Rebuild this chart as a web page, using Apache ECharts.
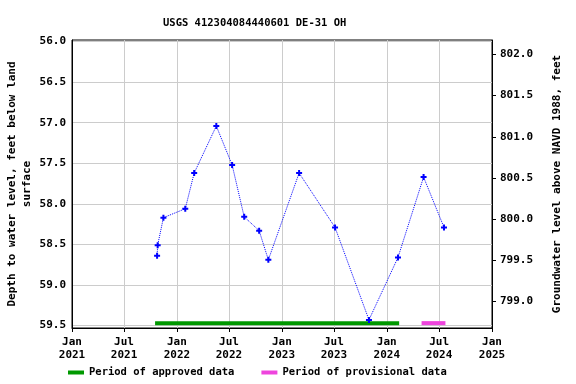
<!DOCTYPE html>
<html><head><meta charset="utf-8">
<script src="https://cdn.jsdelivr.net/npm/echarts@6/dist/echarts.min.js"></script>
<style>html,body{margin:0;padding:0;background:#fff}#c{width:576px;height:384px}</style>
</head><body><div id="c"></div>
<script>
var titleText = 'USGS 412304084440601 DE-31 OH';
var sampleDates = ['2021-10-24','2021-10-26','2021-11-15','2022-01-30','2022-03-02','2022-05-18','2022-07-12','2022-08-23','2022-10-14','2022-11-15','2023-03-02','2023-07-05','2023-10-31','2024-02-09','2024-05-08','2024-07-18'];
var depthValues = [58.64,58.51,58.17,58.06,57.62,57.04,57.52,58.16,58.33,58.69,57.62,58.29,59.43,58.66,57.67,58.29];
var approvedPeriod = ['2021-10-17','2024-02-13'];
var provisionalPeriod = ['2024-05-01','2024-07-23'];
var periodBarDepth = 59.47;
var xTickDates = ['2021-01-01','2021-07-01','2022-01-01','2022-07-01','2023-01-01','2023-07-01','2024-01-01','2024-07-01','2025-01-01'];
var xTickLabels = ['Jan\n2021','Jul\n2021','Jan\n2022','Jul\n2022','Jan\n2023','Jul\n2023','Jan\n2024','Jul\n2024','Jan\n2025'];
var leftTicks = [56.0,56.5,57.0,57.5,58.0,58.5,59.0,59.5];
var rightTicks = [799.0,799.5,800.0,800.5,801.0,801.5,802.0];

function ts(d){ return new Date(d + 'T00:00:00Z').getTime(); }
var xTickTs = xTickDates.map(ts);
var labelMap = {};
xTickTs.forEach(function(t,i){ labelMap[t] = xTickLabels[i]; });

var font = 'DejaVu Sans Mono';
var chart = echarts.init(document.getElementById('c'), null, {renderer:'canvas'});
chart.setOption({
  animation: false,
  backgroundColor: '#fff',
  title: { text: titleText, left: 158, top: 13, textStyle: { fontFamily: font, fontWeight: 'bold', fontSize: 10.5, color: '#000' } },
  grid: { left: 72, right: 84, top: 40, bottom: 56, show: true, borderColor: '#000', borderWidth: 1, backgroundColor: 'transparent', containLabel: false, outerBoundsMode: 'none' },
  legend: {
    left: 63, top: 362, itemWidth: 16, itemHeight: 4, itemGap: 27, icon: 'rect',
    data: ['Period of approved data','Period of provisional data'],
    textStyle: { fontFamily: font, fontWeight: 'bold', fontSize: 10.5, color: '#000', padding: [0,0,0,0] }
  },
  xAxis: {
    type: 'value', min: ts('2021-01-01'), max: ts('2025-01-01'),
    axisLine: { show: true, lineStyle: { color: '#000' } },
    axisTick: { show: true, length: 4, lineStyle: { color: '#000' }, customValues: xTickTs },
    axisLabel: { customValues: xTickTs, formatter: function(v){ return labelMap[v] || ''; }, fontFamily: font, fontWeight: 'bold', fontSize: 11, color: '#000', lineHeight: 13, margin: 8 },
    splitLine: { show: true, lineStyle: { color: '#cccccc', width: 1 } }
  },
  yAxis: [{
    type: 'value', inverse: true, min: 55.98, max: 59.53,
    name: 'Depth to water level, feet below land\nsurface', nameLocation: 'middle', nameGap: 37, nameRotate: 90, nameMoveOverlap: false,
    nameTextStyle: { fontFamily: font, fontWeight: 'bold', fontSize: 11, color: '#000', lineHeight: 15 },
    axisLine: { show: true, lineStyle: { color: '#000' } },
    axisTick: { show: false, customValues: leftTicks },
    axisLabel: { customValues: leftTicks, formatter: function(v){ return v.toFixed(1); }, fontFamily: font, fontWeight: 'bold', fontSize: 11, color: '#000', margin: 6 },
    splitLine: { show: true, lineStyle: { color: '#cccccc', width: 1 } }
  },{
    type: 'value', position: 'right', min: 798.68, max: 802.174,
    name: 'Groundwater level above NAVD 1988, feet', nameLocation: 'middle', nameGap: 60, nameRotate: 90, nameMoveOverlap: false,
    nameTextStyle: { fontFamily: font, fontWeight: 'bold', fontSize: 11, color: '#000' },
    axisLine: { show: true, lineStyle: { color: '#000' } },
    axisTick: { show: true, length: 4, customValues: rightTicks, lineStyle: { color: '#000' } },
    axisLabel: { customValues: rightTicks, formatter: function(v){ return v.toFixed(1); }, fontFamily: font, fontWeight: 'bold', fontSize: 11, color: '#000', margin: 8 },
    splitLine: { show: false }
  }],
  series: [{
    name: 'Depth', type: 'line', yAxisIndex: 0,
    data: sampleDates.map(function(d,i){ return [ts(d), depthValues[i]]; }),
    symbol: 'path://M2,0H4V2H6V4H4V6H2V4H0V2H2Z', symbolSize: 6,
    itemStyle: { color: '#0000ff' },
    lineStyle: { color: '#0000ff', width: 1, type: 'dotted' },
    z: 5
  },{
    name: 'Period of approved data', type: 'line', yAxisIndex: 0, symbol: 'none',
    data: approvedPeriod.map(function(d){ return [ts(d), periodBarDepth]; }),
    itemStyle: { color: '#009900' }, lineStyle: { color: '#009900', width: 4 }
  },{
    name: 'Period of provisional data', type: 'line', yAxisIndex: 0, symbol: 'none',
    data: provisionalPeriod.map(function(d){ return [ts(d), periodBarDepth]; }),
    itemStyle: { color: '#ee44dd' }, lineStyle: { color: '#ee44dd', width: 4 }
  }]
});
</script></body></html>
